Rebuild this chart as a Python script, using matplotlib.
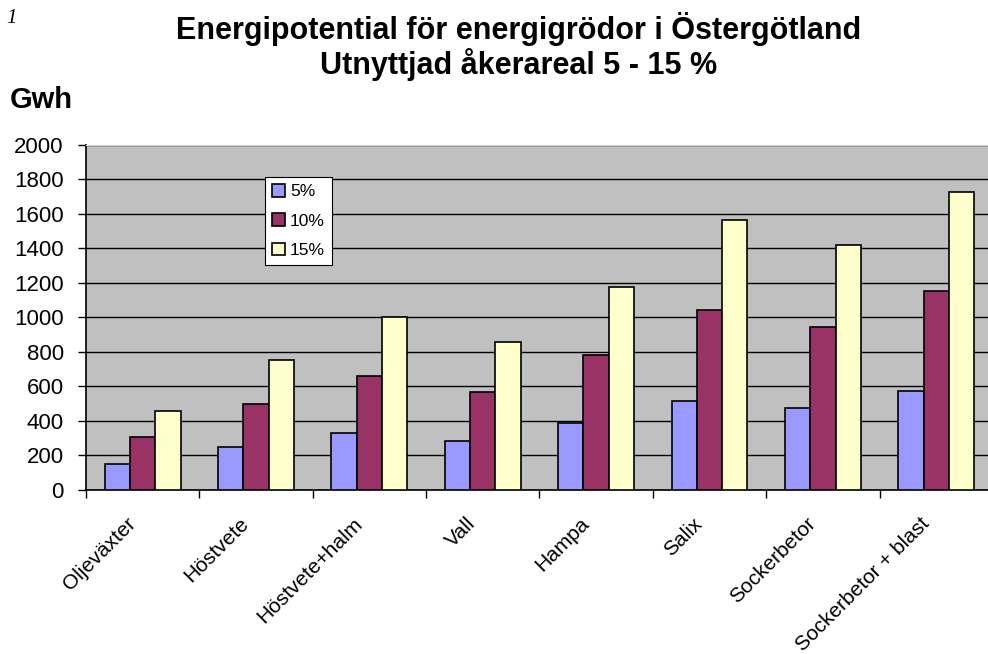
import numpy as np
import matplotlib.pyplot as plt
import matplotlib.transforms as mtransforms

# crops and energy potential (GWh) per share of arable land used
categories = ["Oljeväxter", "Höstvete", "Höstvete+halm", "Vall", "Hampa",
              "Salix", "Sockerbetor", "Sockerbetor + blast"]
pct5 = [153, 250, 332, 284, 390, 518, 473, 576]
pct10 = [305, 500, 662, 570, 783, 1043, 946, 1153]
pct15 = [456, 754, 1000, 857, 1178, 1565, 1420, 1728]
series_labels = ["5%", "10%", "15%"]
yticks = list(range(0, 2001, 200))

colors = ["#9999FF", "#993366", "#FFFFCC"]

plt.rcParams['font.family'] = ['Liberation Sans', 'DejaVu Sans']

fig = plt.figure(figsize=(9.88, 6.54), dpi=100)
ax = fig.add_axes([0.087, 0.2508, 0.918, 0.5275])
ax.set_facecolor("#C0C0C0")

x = np.arange(len(categories))
w = 0.223
for i, (vals, lab) in enumerate(zip([pct5, pct10, pct15], series_labels)):
    ax.bar(x + (i - 1) * w, vals, width=w, color=colors[i], edgecolor="black",
           linewidth=1.2, label=lab, zorder=3)

ax.set_xlim(-0.5, len(categories) - 0.5)
ax.set_ylim(0, 2000)
ax.set_yticks(yticks)
ax.set_yticklabels([str(t) for t in yticks], fontsize=16)
ax.yaxis.grid(True, color="black", linewidth=1.0, zorder=1)
ax.set_axisbelow(True)
ax.tick_params(axis="y", direction="out", length=6, width=1, pad=10)

ax.set_xticks(x)
ax.set_xticklabels(categories, rotation=45, ha="right", va="center",
                   rotation_mode="anchor", fontsize=15)
ax.tick_params(axis="x", which="major", length=0, pad=22)
shift = mtransforms.ScaledTranslation(-10 / 100, 0, fig.dpi_scale_trans)
for lbl in ax.get_xticklabels():
    lbl.set_transform(lbl.get_transform() + shift)
ax.set_xticks(np.arange(-0.5, len(categories), 1), minor=True)
ax.tick_params(axis="x", which="minor", direction="out", length=6, width=1)

for s in ["top", "right"]:
    ax.spines[s].set_color("#d0d0d0")
ax.spines["left"].set_linewidth(1.2)
ax.spines["bottom"].set_linewidth(1.2)

leg = ax.legend(loc="upper left", bbox_to_anchor=(0.197, 0.907), fontsize=12.5,
                fancybox=False, framealpha=1, edgecolor="black",
                handlelength=0.75, handleheight=0.75, handletextpad=0.3,
                borderpad=0.4, labelspacing=0.8, borderaxespad=0)
leg.get_frame().set_linewidth(0.8)

fig.text(0.525, 0.929, "Energipotential för energigrödor i Östergötland\nUtnyttjad åkerareal 5 - 15 %",
         ha="center", va="center", fontsize=22, fontweight="bold", linespacing=1.1)
fig.text(0.010, 0.847, "Gwh", ha="left", va="center", fontsize=21, fontweight="bold")
fig.text(0.006, 0.972, "1", ha="left", va="center", fontsize=15, style="italic",
         family="Liberation Serif")

fig.savefig("out.png", dpi=100)
